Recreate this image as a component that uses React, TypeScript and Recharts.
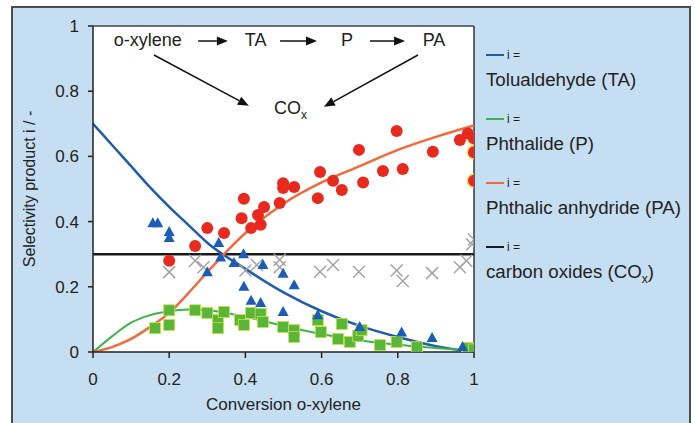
import React from 'react';
import {
  ComposedChart,
  Line,
  Scatter,
  XAxis,
  YAxis,
  ReferenceLine,
  ReferenceArea,
  ReferenceDot,
  Legend,
  Label
} from 'recharts';

const FONT = '"Liberation Sans", Arial, Helvetica, sans-serif';

// model curves
const fitX = [0, 0.05, 0.1, 0.15, 0.2, 0.25, 0.3, 0.4, 0.5, 0.6, 0.7, 0.8, 0.9, 1];
const fitTA = [0.7, 0.635, 0.57, 0.505, 0.445, 0.39, 0.335, 0.255, 0.183, 0.125, 0.08, 0.046, 0.018, 0];
const fitP = [0, 0.048, 0.09, 0.113, 0.125, 0.13, 0.128, 0.108, 0.08, 0.055, 0.035, 0.022, 0.012, 0.003];
const fitPA = [0, 0.015, 0.04, 0.077, 0.12, 0.18, 0.245, 0.365, 0.455, 0.52, 0.57, 0.62, 0.66, 0.695];
const fitCOxX = [0, 1];
const fitCOx = [0.3, 0.3];

// measured points
const taX = [0.157, 0.17, 0.2, 0.2, 0.3, 0.33, 0.335, 0.37, 0.395, 0.396, 0.415, 0.44, 0.446, 0.499, 0.499, 0.528, 0.59, 0.7, 0.81, 0.89, 0.97];
const taY = [0.395, 0.395, 0.368, 0.35, 0.245, 0.334, 0.29, 0.273, 0.3, 0.2, 0.157, 0.15, 0.267, 0.24, 0.123, 0.205, 0.113, 0.077, 0.06, 0.043, 0.015];

const pX = [0.163, 0.2, 0.2, 0.268, 0.3, 0.328, 0.328, 0.344, 0.386, 0.396, 0.415, 0.44, 0.446, 0.499, 0.528, 0.528, 0.59, 0.598, 0.643, 0.653, 0.674, 0.696, 0.705, 0.753, 0.797, 0.85, 0.985, 1];
const pY = [0.073, 0.083, 0.128, 0.128, 0.12, 0.098, 0.073, 0.123, 0.098, 0.083, 0.12, 0.117, 0.092, 0.077, 0.067, 0.046, 0.098, 0.061, 0.04, 0.086, 0.031, 0.049, 0.067, 0.021, 0.031, 0.015, 0.012, 0.008];

const paX = [0.2, 0.268, 0.3, 0.344, 0.39, 0.396, 0.415, 0.433, 0.44, 0.449, 0.49, 0.499, 0.499, 0.528, 0.59, 0.596, 0.63, 0.653, 0.698, 0.709, 0.761, 0.797, 0.813, 0.892, 0.963, 0.984, 1, 1, 1];
const paY = [0.28, 0.325, 0.38, 0.365, 0.41, 0.47, 0.38, 0.42, 0.39, 0.445, 0.457, 0.518, 0.503, 0.506, 0.472, 0.552, 0.525, 0.497, 0.62, 0.52, 0.555, 0.678, 0.561, 0.614, 0.65, 0.67, 0.656, 0.613, 0.525];

const coxX = [0.2, 0.268, 0.29, 0.4, 0.43, 0.49, 0.49, 0.596, 0.63, 0.698, 0.797, 0.813, 0.89, 0.963, 0.98, 0.995, 1];
const coxY = [0.245, 0.28, 0.26, 0.25, 0.267, 0.283, 0.26, 0.246, 0.267, 0.246, 0.25, 0.218, 0.242, 0.26, 0.28, 0.33, 0.345];

// yellowish glow behind a few points on the right edge
const glowX = [1, 1, 1, 0.985];
const glowY = [0.656, 0.613, 0.525, 0.006];

const ticks = [0, 0.2, 0.4, 0.6, 0.8, 1];

// reaction scheme drawn on the plot
const schemeWords = ['o-xylene', 'TA', 'P', 'PA'];
const schemeWordX = [0.144, 0.427, 0.667, 0.895];
const schemeY = 0.957;
const arrowFrom = [[0.276, 0.954], [0.491, 0.954], [0.727, 0.954], [0.16, 0.911], [0.853, 0.911]];
const arrowTo = [[0.354, 0.954], [0.588, 0.954], [0.819, 0.954], [0.409, 0.755], [0.606, 0.752]];

const legendColors = ['#1f5cae', '#3cb44b', '#f2693c', '#1a1a1a'];
const legendNames = ['Tolualdehyde (TA)', 'Phthalide (P)', 'Phthalic anhydride (PA)', 'carbon oxides (CO'];

const pts = (xs: number[], ys: number[]) => xs.map((x, i) => ({ x, y: ys[i] }));

const Tri = (p: any) => (
  <polygon points={`${p.cx},${p.cy - 6} ${p.cx + 5.5},${p.cy + 4} ${p.cx - 5.5},${p.cy + 4}`} fill="#1b5db6" />
);
const Dot = (p: any) => <circle cx={p.cx} cy={p.cy} r={6} fill="#e8291d" />;
const Glow = (p: any) => <circle cx={p.cx} cy={p.cy} r={7.5} fill="#e3e34a" fillOpacity={0.8} />;
const Sq = (p: any) => (
  <rect x={p.cx - 5.5} y={p.cy - 5.5} width={11} height={11} fill="#5ab63b" stroke="#c9e04a" strokeWidth={0.8} />
);
const Cross = (p: any) => (
  <g stroke="#a3a3a3" strokeWidth={1.5}>
    <line x1={p.cx - 6} y1={p.cy - 6} x2={p.cx + 6} y2={p.cy + 6} />
    <line x1={p.cx - 6} y1={p.cy + 6} x2={p.cx + 6} y2={p.cy - 6} />
  </g>
);

const arrowShape = (p: any) => {
  const { x1, y1, x2, y2 } = p;
  const a = Math.atan2(y2 - y1, x2 - x1);
  const L = 11;
  const W = 4.5;
  const bx = x2 - L * Math.cos(a);
  const by = y2 - L * Math.sin(a);
  const px = -Math.sin(a) * W;
  const py = Math.cos(a) * W;
  return (
    <g>
      <line x1={x1} y1={y1} x2={bx} y2={by} stroke="#111" strokeWidth={1.5} />
      <polygon points={`${x2},${y2} ${bx + px},${by + py} ${bx - px},${by - py}`} fill="#111" />
    </g>
  );
};

const renderLegend = () => (
  <div style={{ fontFamily: FONT, color: '#222' }}>
    {legendNames.map((name, i) => (
      <div key={name} style={{ height: 64 }}>
        <div style={{ display: 'flex', alignItems: 'center', height: 20 }}>
          <span style={{ display: 'inline-block', width: 18, height: 2.5, background: legendColors[i], marginRight: 3 }} />
          <span style={{ fontSize: 12 }}>i =</span>
        </div>
        <div style={{ fontSize: 18.7, lineHeight: '30px', whiteSpace: 'nowrap' }}>
          {name}
          {i === 3 && (
            <>
              <sub style={{ fontSize: 12 }}>x</sub>)
            </>
          )}
        </div>
      </div>
    ))}
  </div>
);

const tickStyle = { fontSize: 17, fill: '#222', fontFamily: FONT };

export default function App() {
  return (
    <div style={{ position: 'absolute', left: 0, top: 0, width: 695, height: 423, background: '#fff', overflow: 'hidden', fontFamily: FONT }}>
      <div style={{ position: 'absolute', left: 11, top: 6, width: 676, height: 430, border: '2px solid #4d4d4d', background: '#c6def1' }} />
      <div style={{ position: 'absolute', left: 0, top: 0 }}>
        <ComposedChart width={695} height={423} margin={{ top: 26, right: 221, bottom: 11, left: 20 }}>
          <XAxis
            dataKey="x"
            type="number"
            domain={[0, 1]}
            ticks={ticks}
            tickFormatter={(v) => String(v)}
            tick={tickStyle}
            tickSize={6}
            tickMargin={15}
            height={60}
            stroke="#222"
            strokeWidth={1.5}
            allowDataOverflow
          >
            <Label value="Conversion o-xylene" position="insideBottom" offset={2} style={{ fontSize: 17, fill: '#222', fontFamily: FONT }} />
          </XAxis>
          <YAxis
            type="number"
            domain={[0, 1]}
            ticks={ticks}
            tickFormatter={(v) => String(v)}
            tick={tickStyle}
            tickSize={5}
            tickMargin={9}
            width={73}
            stroke="#222"
            strokeWidth={1.5}
            allowDataOverflow
          >
            <Label value="Selectivity product i / -" angle={-90} position="insideLeft" offset={9} style={{ fontSize: 16, fill: '#222', fontFamily: FONT, textAnchor: 'middle' }} />
          </YAxis>
          <ReferenceArea x1={0} x2={1} y1={0} y2={1} fill="#fff" fillOpacity={1} stroke="none" />
          <ReferenceLine y={1} stroke="#444" strokeWidth={1.5} />
          <ReferenceLine x={1} stroke="#333" strokeWidth={1.5} />

          {arrowFrom.map((f, i) => (
            <ReferenceLine key={'a' + i} segment={[{ x: f[0], y: f[1] }, { x: arrowTo[i][0], y: arrowTo[i][1] }]} shape={arrowShape} />
          ))}
          {schemeWords.map((w, i) => (
            <ReferenceDot
              key={w}
              x={schemeWordX[i]}
              y={schemeY}
              r={0}
              fill="none"
              stroke="none"
              label={{ value: w, position: 'center', style: { fontSize: 18, fill: '#222', fontFamily: FONT } }}
            />
          ))}
          <ReferenceDot
            x={0.475}
            y={0.748}
            r={0}
            fill="none"
            stroke="none"
            label={{
              content: (props: any) => (
                <text x={props.viewBox.x} y={props.viewBox.y + 6} fontSize={18} fill="#222" fontFamily={FONT}>
                  CO<tspan fontSize={12} dy={5}>x</tspan>
                </text>
              )
            }}
          />

          <Scatter data={pts(glowX, glowY)} dataKey="y" shape={Glow} isAnimationActive={false} />

          <Line data={pts(fitCOxX, fitCOx)} dataKey="y" type="linear" stroke="#1a1a1a" strokeWidth={2.5} dot={false} isAnimationActive={false} />
          <Line data={pts(fitX, fitTA)} dataKey="y" type="monotone" stroke="#1f5cae" strokeWidth={2.5} dot={false} isAnimationActive={false} />
          <Line data={pts(fitX, fitP)} dataKey="y" type="monotone" stroke="#3cb44b" strokeWidth={2} dot={false} isAnimationActive={false} />
          <Line data={pts(fitX, fitPA)} dataKey="y" type="monotone" stroke="#f2693c" strokeWidth={2.5} dot={false} isAnimationActive={false} />

          <Scatter data={pts(coxX, coxY)} dataKey="y" shape={Cross} isAnimationActive={false} />
          <Scatter data={pts(paX, paY)} dataKey="y" shape={Dot} isAnimationActive={false} />
          <Scatter data={pts(pX, pY)} dataKey="y" shape={Sq} isAnimationActive={false} />
          <Scatter data={pts(taX, taY)} dataKey="y" shape={Tri} isAnimationActive={false} />

          <Legend
            content={renderLegend}
            layout="horizontal"
            verticalAlign="middle"
            align="center"
            wrapperStyle={{ left: 486, top: 45, width: 205, height: 260 }}
          />
        </ComposedChart>
      </div>
    </div>
  );
}
